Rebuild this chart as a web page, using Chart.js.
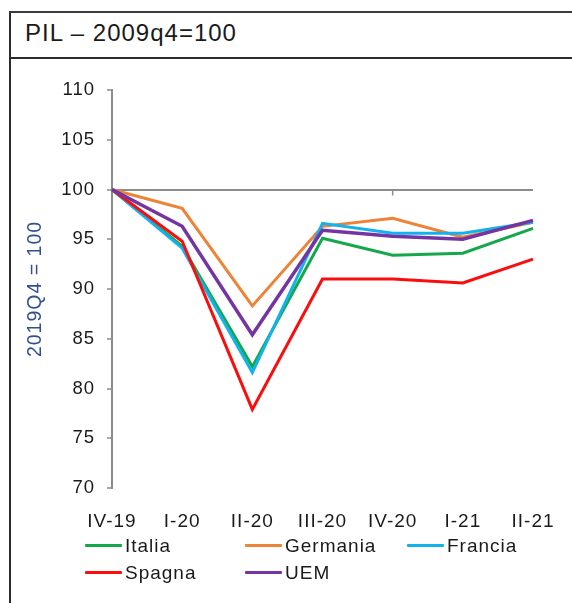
<!DOCTYPE html>
<html>
<head>
<meta charset="utf-8">
<script src="https://cdn.jsdelivr.net/npm/chart.js@4.4.1/dist/chart.umd.min.js"></script>
<style>
  html, body { margin: 0; padding: 0; background: #fff; }
  body { width: 572px; height: 603px; position: relative; overflow: hidden; font-family: "Liberation Sans", Arial, sans-serif; }
  .frame-left { position: absolute; left: 9px; top: 11px; width: 2px; height: 600px; background: #2b2b2b; }
  .frame-top { position: absolute; left: 9px; top: 11px; width: 570px; height: 2px; background: #3a3a3a; }
  .frame-sep { position: absolute; left: 9px; top: 57px; width: 570px; height: 2px; background: #2b2b2b; }
  .title { position: absolute; left: 25px; top: 21px; font-size: 24px; line-height: 1; letter-spacing: 1px; color: #1a1a1a; }
  #chart { position: absolute; left: 0; top: 0; }
  #legend { position: absolute; left: 85px; top: 532px; display: grid; grid-template-columns: 160px 162px 150px; grid-auto-rows: 27px; }
  .item { display: flex; align-items: center; font-size: 19px; letter-spacing: 1px; color: #1a1a1a; }
  .swatch { width: 37px; height: 3.5px; margin-right: 3px; border-radius: 1px; }
</style>
</head>
<body>
<div class="frame-left"></div>
<div class="frame-top"></div>
<div class="frame-sep"></div>
<div class="title">PIL – 2009q4=100</div>
<canvas id="chart" width="572" height="603"></canvas>
<div id="legend"></div>
<script>
// quarters on the x axis
const quarters = ['IV-19', 'I-20', 'II-20', 'III-20', 'IV-20', 'I-21', 'II-21'];

// GDP index, 2019Q4 = 100
const italia   = [100, 94.3, 82.2, 95.1, 93.4, 93.6, 96.1];
const germania = [100, 98.1, 88.3, 96.3, 97.1, 95.2, 96.7];
const francia  = [100, 94.1, 81.6, 96.6, 95.6, 95.6, 96.7];
const spagna   = [100, 94.8, 77.9, 91.0, 91.0, 90.6, 93.0];
const uem      = [100, 96.3, 85.4, 95.9, 95.3, 95.0, 96.9];

const seriesNames = ['Italia', 'Germania', 'Francia', 'Spagna', 'UEM'];
const seriesColors = ['#14a84b', '#ee8235', '#12b2ee', '#fb0d0d', '#7434a2'];
const seriesValues = [italia, germania, francia, spagna, uem];

const fontFamily = '"Liberation Sans", Arial, sans-serif';
const axisGray = '#8c8c8c';

// the original text is set a little wider than plain Arial
const wideText = {
  id: 'wideText',
  beforeUpdate(chart) { chart.ctx.letterSpacing = '1px'; },
  beforeDraw(chart) { chart.ctx.letterSpacing = '1px'; }
};

// small tick on the 100 line, like the original
const baseTick = {
  id: 'baseTick',
  beforeDatasetsDraw(chart) {
    const { ctx, scales } = chart;
    const x = scales.x.getPixelForValue(4);
    const y = scales.y.getPixelForValue(100);
    ctx.save();
    ctx.strokeStyle = axisGray;
    ctx.lineWidth = 1.5;
    ctx.beginPath();
    ctx.moveTo(x, y);
    ctx.lineTo(x, y + 6);
    ctx.stroke();
    ctx.restore();
  }
};

const canvas = document.getElementById('chart');
new Chart(canvas, {
  type: 'line',
  data: {
    labels: quarters,
    datasets: seriesValues.map((vals, i) => ({
      label: seriesNames[i],
      data: vals,
      borderColor: seriesColors[i],
      backgroundColor: seriesColors[i],
      borderWidth: i === 4 ? 3.5 : 3,
      pointRadius: 0,
      tension: 0,
      order: 4 - i
    }))
  },
  options: {
    responsive: false,
    animation: false,
    devicePixelRatio: 1,
    layout: { padding: { top: 90, right: 39, left: 0, bottom: 0 } },
    plugins: { legend: { display: false }, tooltip: { enabled: false } },
    scales: {
      x: {
        offset: false,
        grid: { display: false },
        border: { display: false },
        ticks: { font: { family: fontFamily, size: 19 }, color: '#1a1a1a', padding: 14, maxRotation: 0, autoSkip: false },
        afterFit: s => { s.height = 115; }
      },
      y: {
        min: 70,
        max: 110,
        ticks: { stepSize: 5, font: { family: fontFamily, size: 18.5 }, color: '#1a1a1a', padding: 12 },
        grid: {
          color: c => (c.tick && c.tick.value === 100 ? axisGray : 'rgba(0,0,0,0)'),
          lineWidth: 2,
          tickColor: axisGray,
          tickWidth: 1.5,
          tickLength: 5
        },
        border: { color: axisGray, width: 2 },
        title: {
          display: true,
          text: '2019Q4 = 100',
          color: '#34508c',
          font: { family: fontFamily, size: 19.5 },
          padding: { top: 24, bottom: 0 }
        },
        afterFit: s => { s.width = 112; }
      }
    }
  },
  plugins: [wideText, baseTick]
});

// legend laid out in three columns like the original
const legend = document.getElementById('legend');
seriesNames.forEach((name, i) => {
  const item = document.createElement('div');
  item.className = 'item';
  item.innerHTML = '<span class="swatch" style="background:' + seriesColors[i] + '"></span>' + name;
  legend.appendChild(item);
});
</script>
</body>
</html>
